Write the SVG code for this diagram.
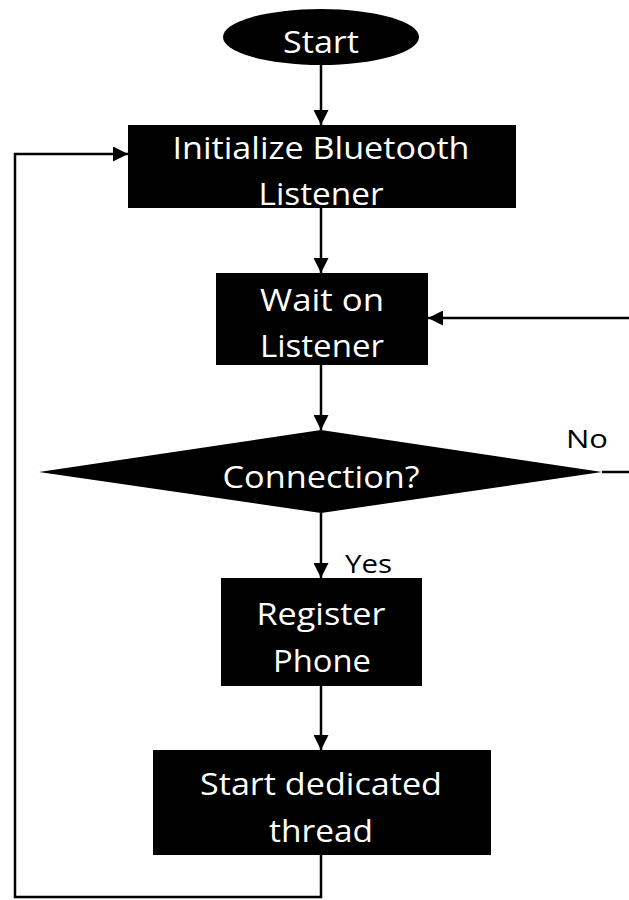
<svg xmlns="http://www.w3.org/2000/svg" width="629" height="900" viewBox="0 0 629 900">
<defs>
<style>
.shape{fill:#000;}
.lbl{font-family:"Open Sans","Noto Sans","Liberation Sans",sans-serif;font-size:31px;fill:#fff;text-anchor:middle;}
.edge{font-family:"Open Sans","Noto Sans","Liberation Sans",sans-serif;font-size:26px;fill:#000;}
.conn{fill:none;stroke:#000;stroke-width:2.5;}
</style>
<marker id="ah" viewBox="0 0 10 10" refX="10" refY="5" markerWidth="15" markerHeight="15" markerUnits="userSpaceOnUse" orient="auto">
<path d="M0,0 L10,5 L0,10 Z" fill="#000"/>
</marker>
</defs>
<rect width="629" height="900" fill="#fff"/>
<g id="connectors">
<line class="conn" x1="321" y1="64" x2="321" y2="125" marker-end="url(#ah)"/>
<line class="conn" x1="321" y1="208" x2="321" y2="273" marker-end="url(#ah)"/>
<line class="conn" x1="321" y1="365" x2="321" y2="430" marker-end="url(#ah)"/>
<line class="conn" x1="321" y1="513" x2="321" y2="578" marker-end="url(#ah)"/>
<line class="conn" x1="321" y1="686" x2="321" y2="750" marker-end="url(#ah)"/>
<polyline class="conn" points="602,472 629,472"/>
<line class="conn" x1="629" y1="318" x2="428" y2="318" marker-end="url(#ah)"/>
<polyline class="conn" points="321,855 321,897 15,897 15,154 128,154" marker-end="url(#ah)"/>
<text class="edge" x="566" y="448" textLength="42" lengthAdjust="spacingAndGlyphs">No</text>
<text class="edge" x="345" y="573" textLength="47" lengthAdjust="spacingAndGlyphs">Yes</text>
</g>
<g id="start">
<ellipse class="shape" cx="321" cy="37" rx="98" ry="28"/>
<text class="lbl" x="321" y="53" textLength="76" lengthAdjust="spacingAndGlyphs">Start</text>
</g>
<g id="init">
<rect class="shape" x="128" y="125" width="388" height="83"/>
<text class="lbl" x="321" y="159" textLength="297" lengthAdjust="spacingAndGlyphs">Initialize Bluetooth</text>
<text class="lbl" x="321" y="205" textLength="125" lengthAdjust="spacingAndGlyphs">Listener</text>
</g>
<g id="wait">
<rect class="shape" x="216" y="273" width="212" height="92"/>
<text class="lbl" x="322" y="311" textLength="124" lengthAdjust="spacingAndGlyphs">Wait on</text>
<text class="lbl" x="322" y="357" textLength="124" lengthAdjust="spacingAndGlyphs">Listener</text>
</g>
<g id="decision">
<polygon class="shape" points="321,430 602,472 321,513 39,472"/>
<text class="lbl" x="321" y="488" textLength="197" lengthAdjust="spacingAndGlyphs">Connection?</text>
</g>
<g id="register">
<rect class="shape" x="221" y="578" width="201" height="108"/>
<text class="lbl" x="321" y="625" textLength="129" lengthAdjust="spacingAndGlyphs">Register</text>
<text class="lbl" x="322" y="672" textLength="98" lengthAdjust="spacingAndGlyphs">Phone</text>
</g>
<g id="thread">
<rect class="shape" x="153" y="750" width="338" height="105"/>
<text class="lbl" x="321" y="795" textLength="242" lengthAdjust="spacingAndGlyphs">Start dedicated</text>
<text class="lbl" x="321" y="842" textLength="104" lengthAdjust="spacingAndGlyphs">thread</text>
</g>
</svg>
